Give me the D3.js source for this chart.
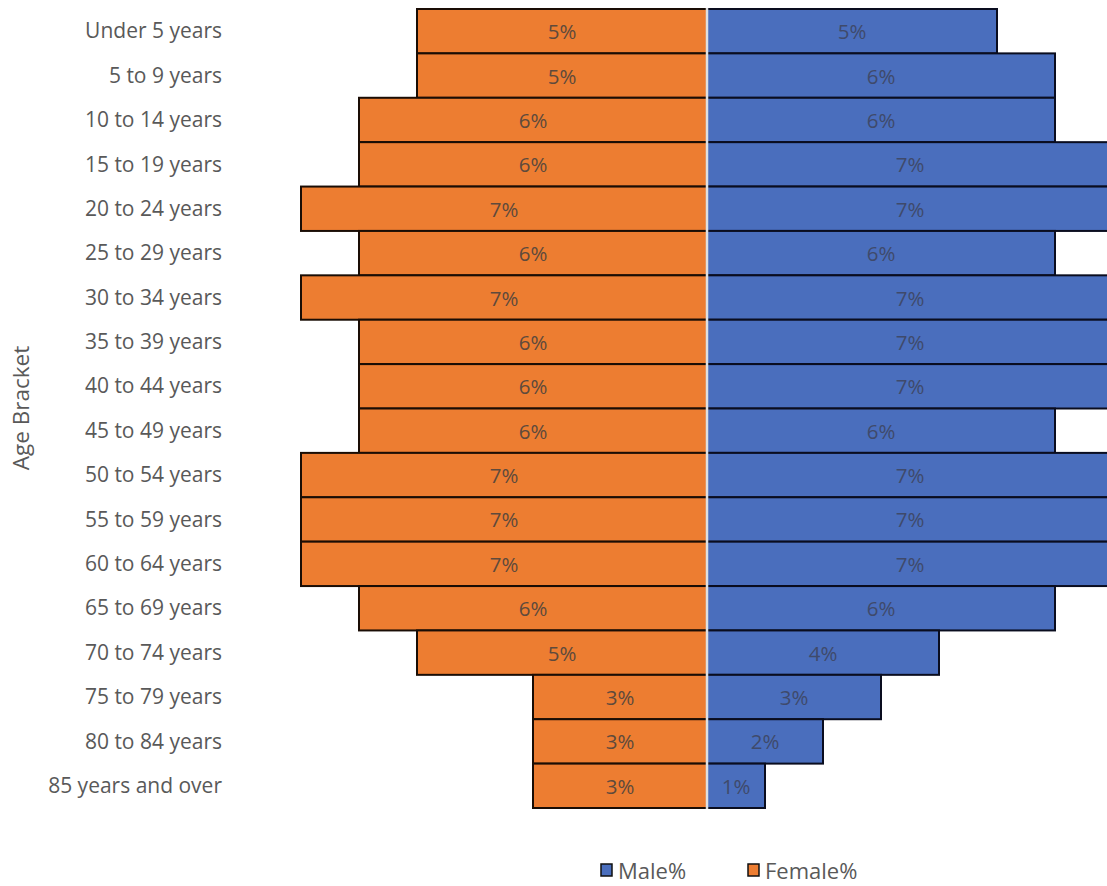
<!DOCTYPE html>
<html><head><meta charset="utf-8">
<script src="https://cdn.jsdelivr.net/npm/d3@7"></script>
<style>body{margin:0;background:#fff;}svg{display:block;font-family:"Open Sans","Liberation Sans",sans-serif;}</style>
</head><body>
<svg id="chart" width="1107" height="886"></svg>
<script>
const categories = ["Under 5 years","5 to 9 years","10 to 14 years","15 to 19 years","20 to 24 years","25 to 29 years","30 to 34 years","35 to 39 years","40 to 44 years","45 to 49 years","50 to 54 years","55 to 59 years","60 to 64 years","65 to 69 years","70 to 74 years","75 to 79 years","80 to 84 years","85 years and over"];
const female = [5,5,6,6,7,6,7,6,6,6,7,7,7,6,5,3,3,3];
const male = [5,6,6,7,7,6,7,7,7,6,7,7,7,6,4,3,2,1];
const legendLabels = ["Male%","Female%"];

const svg = d3.select("#chart");
const cx = 707, unit = 58;
const y = d3.scaleBand().domain(categories).range([9, 808]).padding(0);
const xF = d3.scaleLinear().domain([0, 7]).range([cx, cx - 7*unit]);
const xM = d3.scaleLinear().domain([0, 7]).range([cx, cx + 7*unit]);
const cFemale = "#ED7D31", cMale = "#4A6EBD";

const g = svg.append("g");
g.selectAll("rect.f").data(female).join("rect")
  .attr("x", d => xF(d)).attr("y", (d,i) => y(categories[i]))
  .attr("width", d => xF(0) - xF(d)).attr("height", y.bandwidth())
  .attr("fill", cFemale).attr("stroke", "#1a0d05").attr("stroke-width", 2);
g.selectAll("rect.m").data(male).join("rect")
  .attr("x", xM(0)).attr("y", (d,i) => y(categories[i]))
  .attr("width", d => xM(d) - xM(0)).attr("height", y.bandwidth())
  .attr("fill", cMale).attr("stroke", "#0a0d1f").attr("stroke-width", 2);

svg.append("line").attr("x1", cx).attr("x2", cx).attr("y1", 8).attr("y2", 809)
  .attr("stroke", "#e0e0e0").attr("stroke-width", 2.5);

g.selectAll("text.fl").data(female).join("text")
  .attr("x", d => (xF(d) + xF(0)) / 2).attr("y", (d,i) => y(categories[i]) + y.bandwidth()/2)
  .attr("text-anchor", "middle").attr("dominant-baseline", "central")
  .attr("fill", "#5e4a3c").attr("font-size", 20.5).text(d => d + "%");
g.selectAll("text.ml").data(male).join("text")
  .attr("x", d => (xM(d) + xM(0)) / 2).attr("y", (d,i) => y(categories[i]) + y.bandwidth()/2)
  .attr("text-anchor", "middle").attr("dominant-baseline", "central")
  .attr("fill", "#3f4a6b").attr("font-size", 20.5).text(d => d + "%");

const yAxis = d3.axisLeft(y).tickSize(0).tickPadding(0);
const ax = svg.append("g").attr("transform", "translate(222,0)").call(yAxis);
ax.select(".domain").remove();
ax.selectAll("text").attr("fill", "#595959").attr("font-size", 21)
  .attr("font-family", "'Open Sans','Liberation Sans',sans-serif").attr("dy", "0.34em");

svg.append("text").attr("transform", "translate(29,408) rotate(-90)")
  .attr("text-anchor", "middle").attr("fill", "#595959").attr("font-size", 22.5).text("Age Bracket");

const leg = [{label: legendLabels[0], color: cMale, x: 601}, {label: legendLabels[1], color: cFemale, x: 748}];
const lg = svg.selectAll("g.leg").data(leg).join("g").attr("transform", d => `translate(${d.x},864)`);
lg.append("rect").attr("width", 11).attr("height", 12).attr("fill", d => d.color).attr("stroke", "#111").attr("stroke-width", 1.5);
lg.append("text").attr("x", 17).attr("y", 6).attr("dominant-baseline", "central")
  .attr("fill", "#595959").attr("font-size", 22).text(d => d.label);
</script>
</body></html>
